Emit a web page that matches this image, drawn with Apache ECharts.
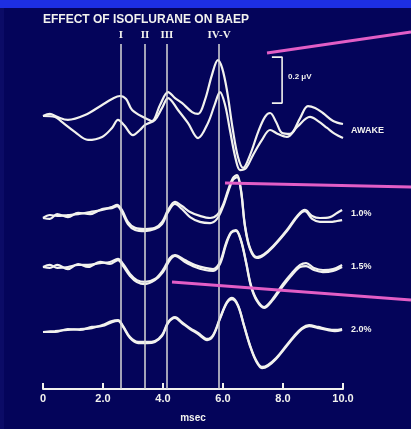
<!DOCTYPE html>
<html>
<head>
<meta charset="utf-8">
<script src="https://cdn.jsdelivr.net/npm/echarts@6/dist/echarts.min.js"></script>
<style>html,body{margin:0;padding:0;background:#04045a}#c{width:411px;height:429px}</style>
</head>
<body>
<div id="c"></div>
<script>
// ---- data (time in msec, amplitude in microvolts relative to each trace's start) ----
const conditionLabels = ['AWAKE', '1.0%', '1.5%', '2.0%'];
const peakNames = ['I', 'II', 'III', 'IV-V'];
const peakLatencies = [2.6, 3.4, 4.13, 5.87];
const xTickValues = [0, 2, 4, 6, 8, 10];
const scaleBarMicrovolts = 0.2;

const awakeTimeA = [0,0.23,0.47,0.83,1.4,1.97,2.3,2.57,2.77,2.97,3.4,3.63,3.9,4.17,4.4,4.63,4.97,5.17,5.4,5.63,5.83,5.97,6.13,6.33,6.5,6.67,6.9,7.17,7.4,7.57,7.77,7.97,8.23,8.57,8.83,9.07,9.33,9.67,10];
const awakeAmpA  = [0,0.009,-0.004,-0.017,0.004,0.048,0.074,0.087,0.074,0.026,-0.009,-0.022,0.048,0.104,0.078,0.057,0.017,0.009,0.07,0.178,0.243,0.209,0.113,-0.061,-0.178,-0.226,-0.17,-0.07,-0.004,0.013,-0.026,-0.074,-0.078,-0.009,0.043,0.035,0.013,-0.022,-0.035];
const awakeTimeB = [0,0.4,0.63,1.07,1.5,1.97,2.3,2.5,2.7,3.0,3.23,3.4,3.73,3.97,4.17,4.5,4.83,5.17,5.5,5.73,5.9,6.07,6.23,6.43,6.57,6.77,7.0,7.3,7.57,7.83,8.13,8.47,8.9,9.17,9.47,9.73,10];
const awakeAmpB  = [0,-0.004,-0.026,-0.07,-0.104,-0.091,-0.052,-0.017,-0.039,-0.083,-0.061,-0.039,-0.017,0.035,0.078,0.026,-0.03,-0.096,-0.03,0.052,0.104,0.048,-0.061,-0.191,-0.235,-0.226,-0.17,-0.104,-0.061,-0.078,-0.091,-0.048,-0.004,-0.022,-0.052,-0.078,-0.096];

const dose10Time = [0,0.23,0.47,0.83,1.17,1.57,1.97,2.3,2.47,2.63,2.83,3.07,3.4,3.73,3.97,4.17,4.4,4.63,4.9,5.23,5.57,5.8,6.0,6.17,6.33,6.47,6.6,6.73,6.9,7.13,7.37,7.67,8.13,8.5,8.73,8.97,9.23,9.57,9.8,9.97];
const dose10AmpA = [0,0.013,0.009,0.013,0.017,0.026,0.035,0.048,0.057,0.035,-0.017,-0.043,-0.048,-0.043,-0.017,0.035,0.07,0.052,0.026,0.009,0,0.013,0.057,0.122,0.174,0.187,0.122,-0.03,-0.13,-0.17,-0.157,-0.122,-0.052,0.013,0.035,0.009,0,0.004,0.022,0.035];
const dose10AmpB = [0,-0.004,0.017,0.004,0.022,0.017,0.039,0.043,0.052,0.026,-0.026,-0.052,-0.057,-0.048,-0.026,0.026,0.061,0.039,0.004,-0.017,-0.022,-0.004,0.048,0.113,0.165,0.178,0.117,-0.035,-0.135,-0.174,-0.161,-0.126,-0.057,0.009,0.030,-0.004,-0.017,-0.017,-0.013,-0.009];

const dose15Time = [0,0.23,0.47,0.83,1.17,1.5,1.9,2.23,2.5,2.67,2.9,3.13,3.4,3.73,4.0,4.23,4.4,4.73,5.07,5.4,5.67,5.9,6.1,6.27,6.43,6.6,6.77,6.93,7.13,7.37,7.63,8.0,8.3,8.57,8.77,9.03,9.33,9.67,9.97];
const dose15AmpA = [0,0.009,-0.004,0,0.009,0.009,0.017,0.022,0.035,0.013,-0.03,-0.057,-0.065,-0.052,-0.013,0.039,0.052,0.03,0.009,-0.004,-0.009,0.022,0.104,0.152,0.161,0.117,0.022,-0.078,-0.143,-0.174,-0.143,-0.074,-0.026,0.009,0.017,-0.004,-0.013,-0.009,0.009];
const dose15AmpB = [0,-0.004,0.009,-0.009,0.013,0.0,0.022,0.013,0.030,0.004,-0.039,-0.065,-0.074,-0.057,-0.022,0.030,0.048,0.022,0.0,-0.013,-0.017,0.013,0.096,0.148,0.157,0.113,0.017,-0.083,-0.148,-0.178,-0.148,-0.083,-0.035,0.0,0.004,-0.013,-0.022,-0.017,0.0];

const dose20Time = [0,0.4,0.83,1.23,1.63,1.97,2.3,2.5,2.67,2.9,3.17,3.47,3.73,3.97,4.17,4.4,4.63,4.9,5.17,5.47,5.67,5.9,6.13,6.3,6.5,6.7,6.9,7.1,7.3,7.5,7.77,8.07,8.37,8.63,8.87,9.17,9.47,9.73,9.97];
const dose20AmpA = [0,0.004,0.009,0.013,0.017,0.03,0.048,0.052,0.026,-0.022,-0.043,-0.043,-0.039,-0.013,0.043,0.065,0.043,0.017,-0.004,-0.03,-0.013,0.061,0.13,0.148,0.117,0.03,-0.057,-0.122,-0.152,-0.143,-0.113,-0.065,-0.017,0.017,0.03,0.022,0.013,0.009,0.013];
const dose20AmpB = [0,0.0,0.013,0.009,0.022,0.026,0.043,0.048,0.022,-0.026,-0.048,-0.048,-0.043,-0.017,0.039,0.061,0.039,0.013,-0.009,-0.035,-0.017,0.057,0.126,0.143,0.113,0.026,-0.061,-0.126,-0.157,-0.148,-0.117,-0.07,-0.022,0.013,0.026,0.017,0.009,0.004,0.009];

// ---- layout (vertical stacking offsets in microvolts) ----
const stackOffsets = [1.187, 0.7435, 0.5304, 0.2478];

function pts(times, amps, off) { return times.map((t, i) => [t, off + amps[i]]); }

const WHITE = '#f2f2ee';
function traceSeries(data, extra) {
  return Object.assign({
    type: 'line', data: data, smooth: 0.35, symbol: 'none', clip: false,
    lineStyle: { color: WHITE, width: 2.2 }, silent: true, z: 3
  }, extra || {});
}

const chart = echarts.init(document.getElementById('c'), null, { renderer: 'canvas' });

const series = [
  traceSeries(pts(awakeTimeA, awakeAmpA, stackOffsets[0]), {
    markLine: {
      silent: true, symbol: 'none', animation: false,
      lineStyle: { color: '#d8d8d8', width: 1.5, type: 'solid' },
      label: { show: true, position: 'end', formatter: '{b}', color: WHITE,
        fontFamily: 'Liberation Serif', fontWeight: 'bold', fontSize: 11, distance: 3 },
      data: peakLatencies.map((v, i) => ({ xAxis: v, name: peakNames[i] }))
    }
  }),
  traceSeries(pts(awakeTimeB, awakeAmpB, stackOffsets[0])),
  traceSeries(pts(dose10Time, dose10AmpA, stackOffsets[1])),
  traceSeries(pts(dose10Time, dose10AmpB, stackOffsets[1])),
  traceSeries(pts(dose15Time, dose15AmpA, stackOffsets[2])),
  traceSeries(pts(dose15Time, dose15AmpB, stackOffsets[2])),
  traceSeries(pts(dose20Time, dose20AmpA, stackOffsets[3])),
  traceSeries(pts(dose20Time, dose20AmpB, stackOffsets[3])),
  // calibration bar (0.2 µV)
  {
    type: 'line', symbol: 'none', clip: false, silent: true, smooth: false,
    lineStyle: { color: WHITE, width: 1.6 },
    data: [[7.63, 1.443], [7.97, 1.443], [7.97, 1.443 - scaleBarMicrovolts], [7.63, 1.443 - scaleBarMicrovolts]]
  }
];

const labelYs = [131, 214, 267, 330];
const graphics = [
  { type: 'rect', left: 0, top: 0, shape: { width: 411, height: 8 }, style: { fill: '#1d2fe2' }, z: 10 },
  { type: 'rect', left: 0, top: 8, shape: { width: 4, height: 421 }, style: { fill: '#0b0b66' }, z: 0 },
  { type: 'text', left: 43, top: 14, style: { text: 'EFFECT OF ISOFLURANE ON BAEP', fill: WHITE,
      font: 'bold 12px "Liberation Sans"' }, z: 10 },
  { type: 'text', left: 288, top: 73, style: { text: '0.2 μV', fill: WHITE, font: 'bold 8px "Liberation Sans"' }, z: 10 },
  // magenta pointer lines (slide annotation)
  { type: 'line', shape: { x1: 267, y1: 53, x2: 411, y2: 32 }, style: { stroke: '#e25ec6', lineWidth: 3 }, z: 20 },
  { type: 'line', shape: { x1: 225, y1: 183, x2: 411, y2: 187 }, style: { stroke: '#e25ec6', lineWidth: 3 }, z: 20 },
  { type: 'line', shape: { x1: 172, y1: 282, x2: 411, y2: 300 }, style: { stroke: '#e25ec6', lineWidth: 3 }, z: 20 }
];
conditionLabels.forEach((t, i) => {
  graphics.push({ type: 'text', left: 351, top: labelYs[i] - 5,
    style: { text: t, fill: WHITE, font: 'bold 9px "Liberation Sans"' }, z: 10 });
});

chart.setOption({
  animation: false,
  backgroundColor: '#04045a',
  grid: { left: 43, right: 68, top: 44, bottom: 40 },
  xAxis: {
    type: 'value', min: 0, max: 10, interval: 2,
    axisLine: { show: true, lineStyle: { color: WHITE, width: 2 } },
    axisTick: { show: true, inside: true, length: 6, lineStyle: { color: WHITE, width: 2 } },
    splitLine: { show: false },
    axisLabel: { color: WHITE, fontFamily: 'Liberation Sans', fontWeight: 'bold', fontSize: 11, margin: 4,
      formatter: v => (xTickValues.indexOf(v) >= 0 ? (v === 0 ? '0' : v.toFixed(1)) : '') },
    name: 'msec', nameLocation: 'middle', nameGap: 24,
    nameTextStyle: { color: WHITE, fontFamily: 'Liberation Sans', fontWeight: 'bold', fontSize: 10 }
  },
  yAxis: { type: 'value', min: 0, max: 1.5, show: false },
  series: series,
  graphic: graphics
});
</script>
</body>
</html>
